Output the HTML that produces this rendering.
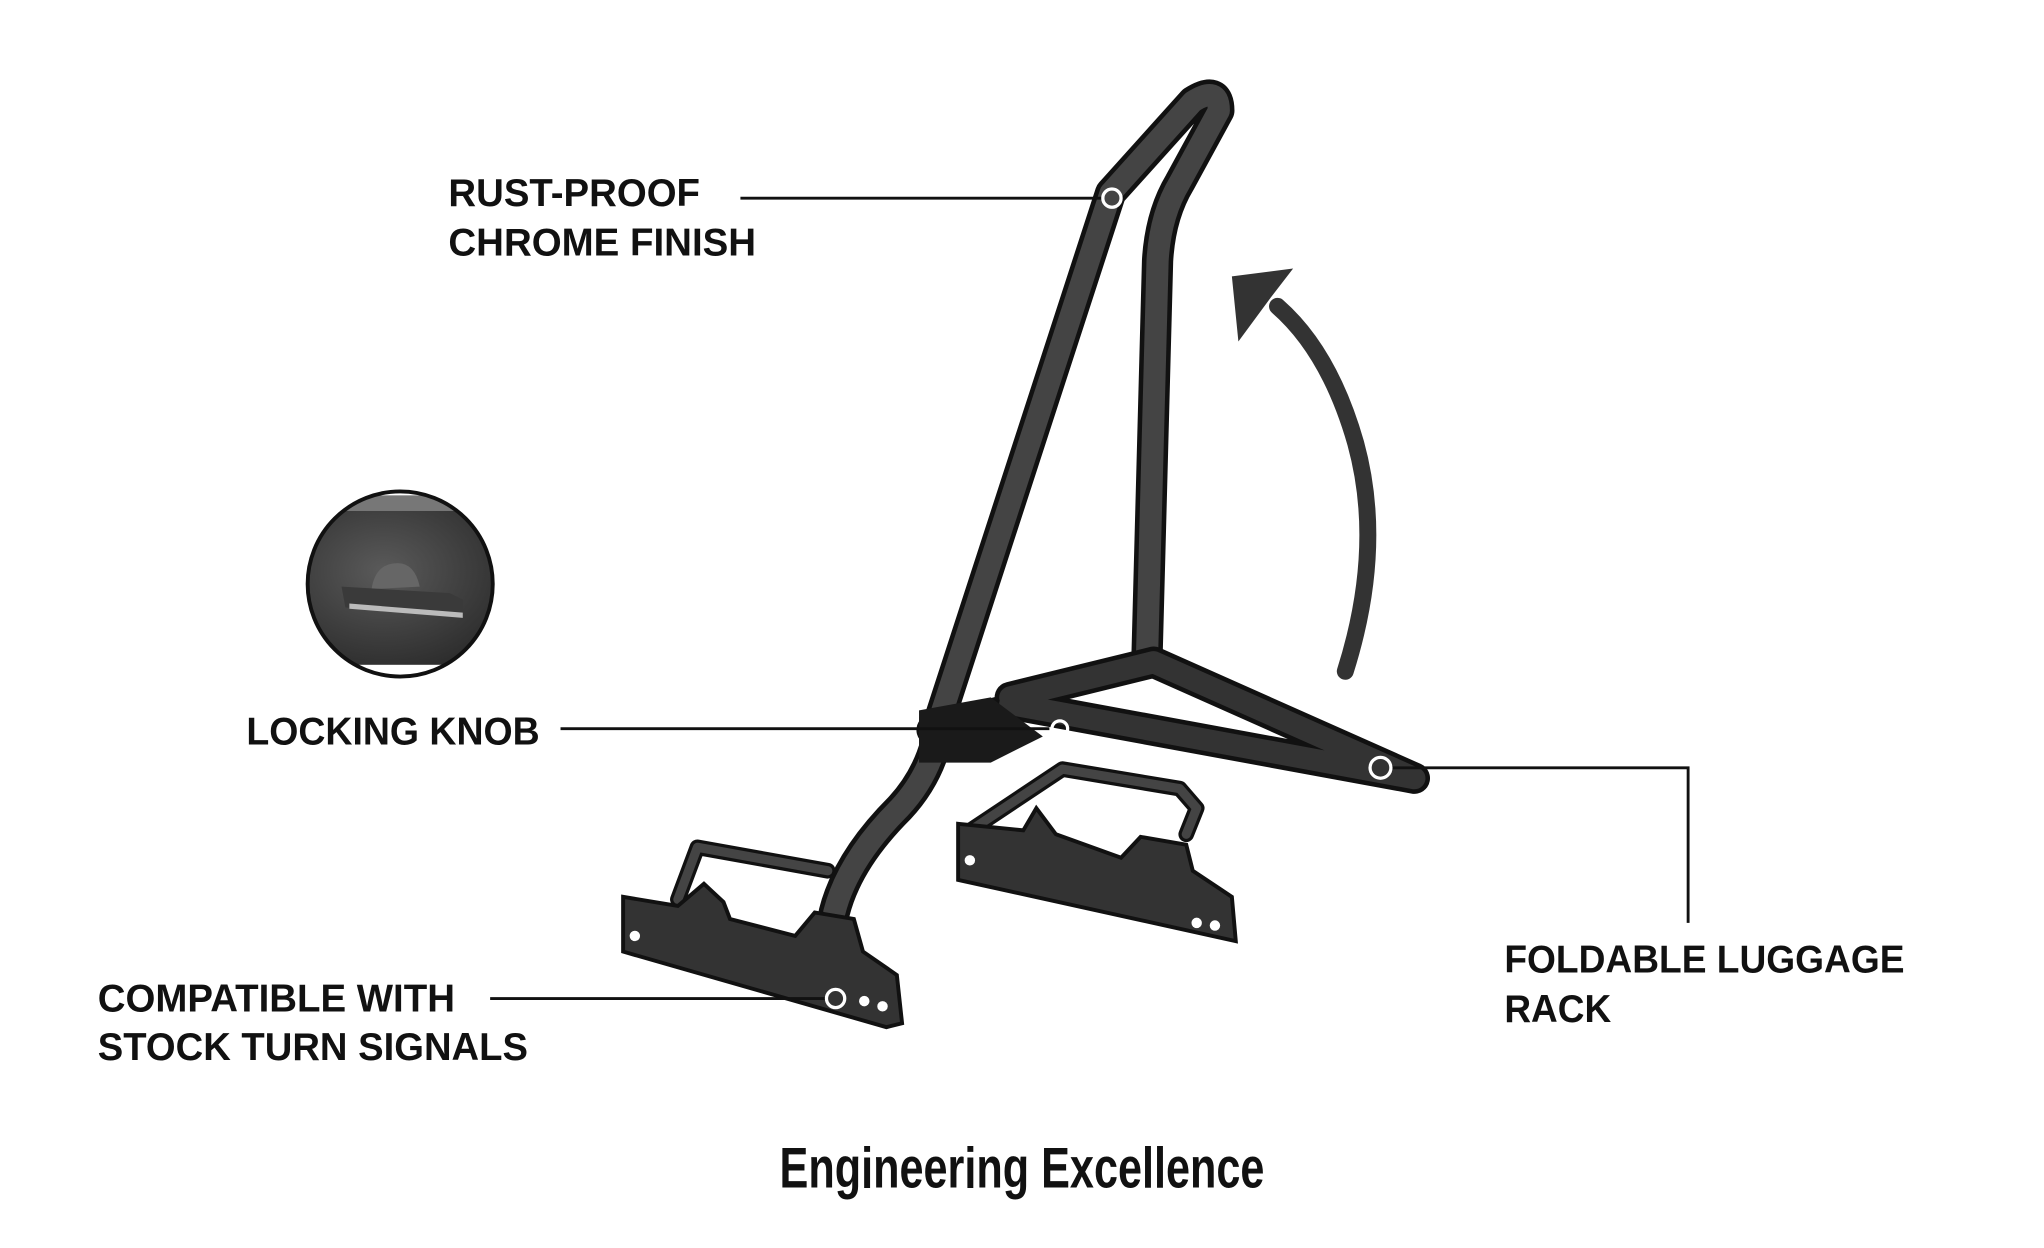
<!DOCTYPE html>
<html><head><meta charset="utf-8"><style>
html,body{margin:0;padding:0;background:#fff;width:2044px;height:1248px;overflow:hidden}
svg{display:block}
text{font-family:"Liberation Sans",sans-serif;font-weight:bold;fill:#111}
</style></head><body>
<svg width="2044" height="1248" viewBox="0 0 1568 957.4" preserveAspectRatio="none" xmlns="http://www.w3.org/2000/svg">
<defs>
<radialGradient id="g" cx="0.4" cy="0.4" r="0.7"><stop offset="0" stop-color="#5a5a5a"/><stop offset="1" stop-color="#2a2a2a"/></radialGradient>
<clipPath id="c"><circle cx="307" cy="448" r="71"/></clipPath>
</defs>
<g stroke-linecap="round" stroke-linejoin="round" fill="none">
<path d="M520 690 L535 650 L635 668 M740 640 L815 590 L905 605 L918 620 L910 640" stroke="#111" stroke-width="12"/>
<path d="M520 690 L535 650 L635 668 M740 640 L815 590 L905 605 L918 620 L910 640" stroke="#444" stroke-width="7"/>
<path d="M640 700 Q650 660 690 620 Q718 590 722 548 L852 148 L915 78 Q935 65 935 85 L905 140 Q890 165 888 200 L880 500" stroke="#111" stroke-width="24"/>
<path d="M640 700 Q650 660 690 620 Q718 590 722 548 L852 148 L915 78 Q935 65 935 85 L905 140 Q890 165 888 200 L880 500" stroke="#444" stroke-width="17"/>
<path d="M775 540 L1085 597 M885 508 L1085 597 M775 535 L885 508 M715 560 L790 540" stroke="#111" stroke-width="24"/>
<path d="M775 540 L1085 597 M885 508 L1085 597 M775 535 L885 508" stroke="#333" stroke-width="17"/>
</g>
<path d="M705 545 L760 535 L800 565 L760 585 L705 585 Z" fill="#1a1a1a"/>
<path d="M478 688 L520 695 L540 678 L555 692 L560 705 L610 718 L625 700 L655 705 L662 730 L688 748 L692 785 L680 788 L478 730 Z" fill="#333" stroke="#111" stroke-width="3"/>
<path d="M735 632 L785 637 L795 620 L810 640 L860 658 L875 642 L910 648 L915 668 L945 688 L948 722 L735 675 Z" fill="#333" stroke="#111" stroke-width="3"/>
<g fill="#fff"><circle cx="487" cy="718" r="4"/><circle cx="663" cy="768" r="4"/><circle cx="677" cy="772" r="4"/><circle cx="744" cy="660" r="4"/><circle cx="918" cy="708" r="4"/><circle cx="932" cy="710" r="4"/></g>
<path d="M1032 515 Q1062 420 1040 340 Q1020 270 980 235" stroke="#333" stroke-width="13" fill="none" stroke-linecap="round"/>
<path d="M945 212 L992 206 L975 228 L950 262 Z" fill="#333"/>
<g clip-path="url(#c)"><rect x="230" y="370" width="160" height="160" fill="#fff"/><rect x="230" y="390" width="160" height="120" fill="url(#g)"/><rect x="230" y="380" width="160" height="12" fill="#777"/>
<path d="M285 452 Q288 432 305 432 Q318 432 322 450 Z" fill="#666"/>
<path d="M262 450 L345 455 L355 460 L355 472 L265 466 Z" fill="#3a3a3a"/><path d="M268 463 L355 470 L355 474 L268 467Z" fill="#bbb"/></g>
<circle cx="307" cy="448" r="71" fill="none" stroke="#111" stroke-width="3"/>
<g stroke="#111" stroke-width="2.2" fill="none">
<path d="M568 152 H845 M430 559 H805 M376 766 H633 M1067 589 H1295 V708"/>
</g>
<g stroke="#fff" stroke-width="2.5" fill="none">
<circle cx="853" cy="152" r="7"/><circle cx="813" cy="559" r="6"/><circle cx="641" cy="766" r="7"/><circle cx="1059" cy="589" r="8"/>
</g>
<g font-size="30">
<text x="344" y="158" textLength="193" lengthAdjust="spacingAndGlyphs">RUST-PROOF</text>
<text x="344" y="196" textLength="236" lengthAdjust="spacingAndGlyphs">CHROME FINISH</text>
<text x="189" y="571" textLength="225" lengthAdjust="spacingAndGlyphs">LOCKING KNOB</text>
<text x="75" y="776" textLength="274" lengthAdjust="spacingAndGlyphs">COMPATIBLE WITH</text>
<text x="75" y="813" textLength="330" lengthAdjust="spacingAndGlyphs">STOCK TURN SIGNALS</text>
<text x="1154" y="746" textLength="307" lengthAdjust="spacingAndGlyphs">FOLDABLE LUGGAGE</text>
<text x="1154" y="784" textLength="82" lengthAdjust="spacingAndGlyphs">RACK</text>
</g>
<text x="598" y="911" font-size="44" textLength="372" lengthAdjust="spacingAndGlyphs">Engineering Excellence</text>
</svg>
</body></html>
